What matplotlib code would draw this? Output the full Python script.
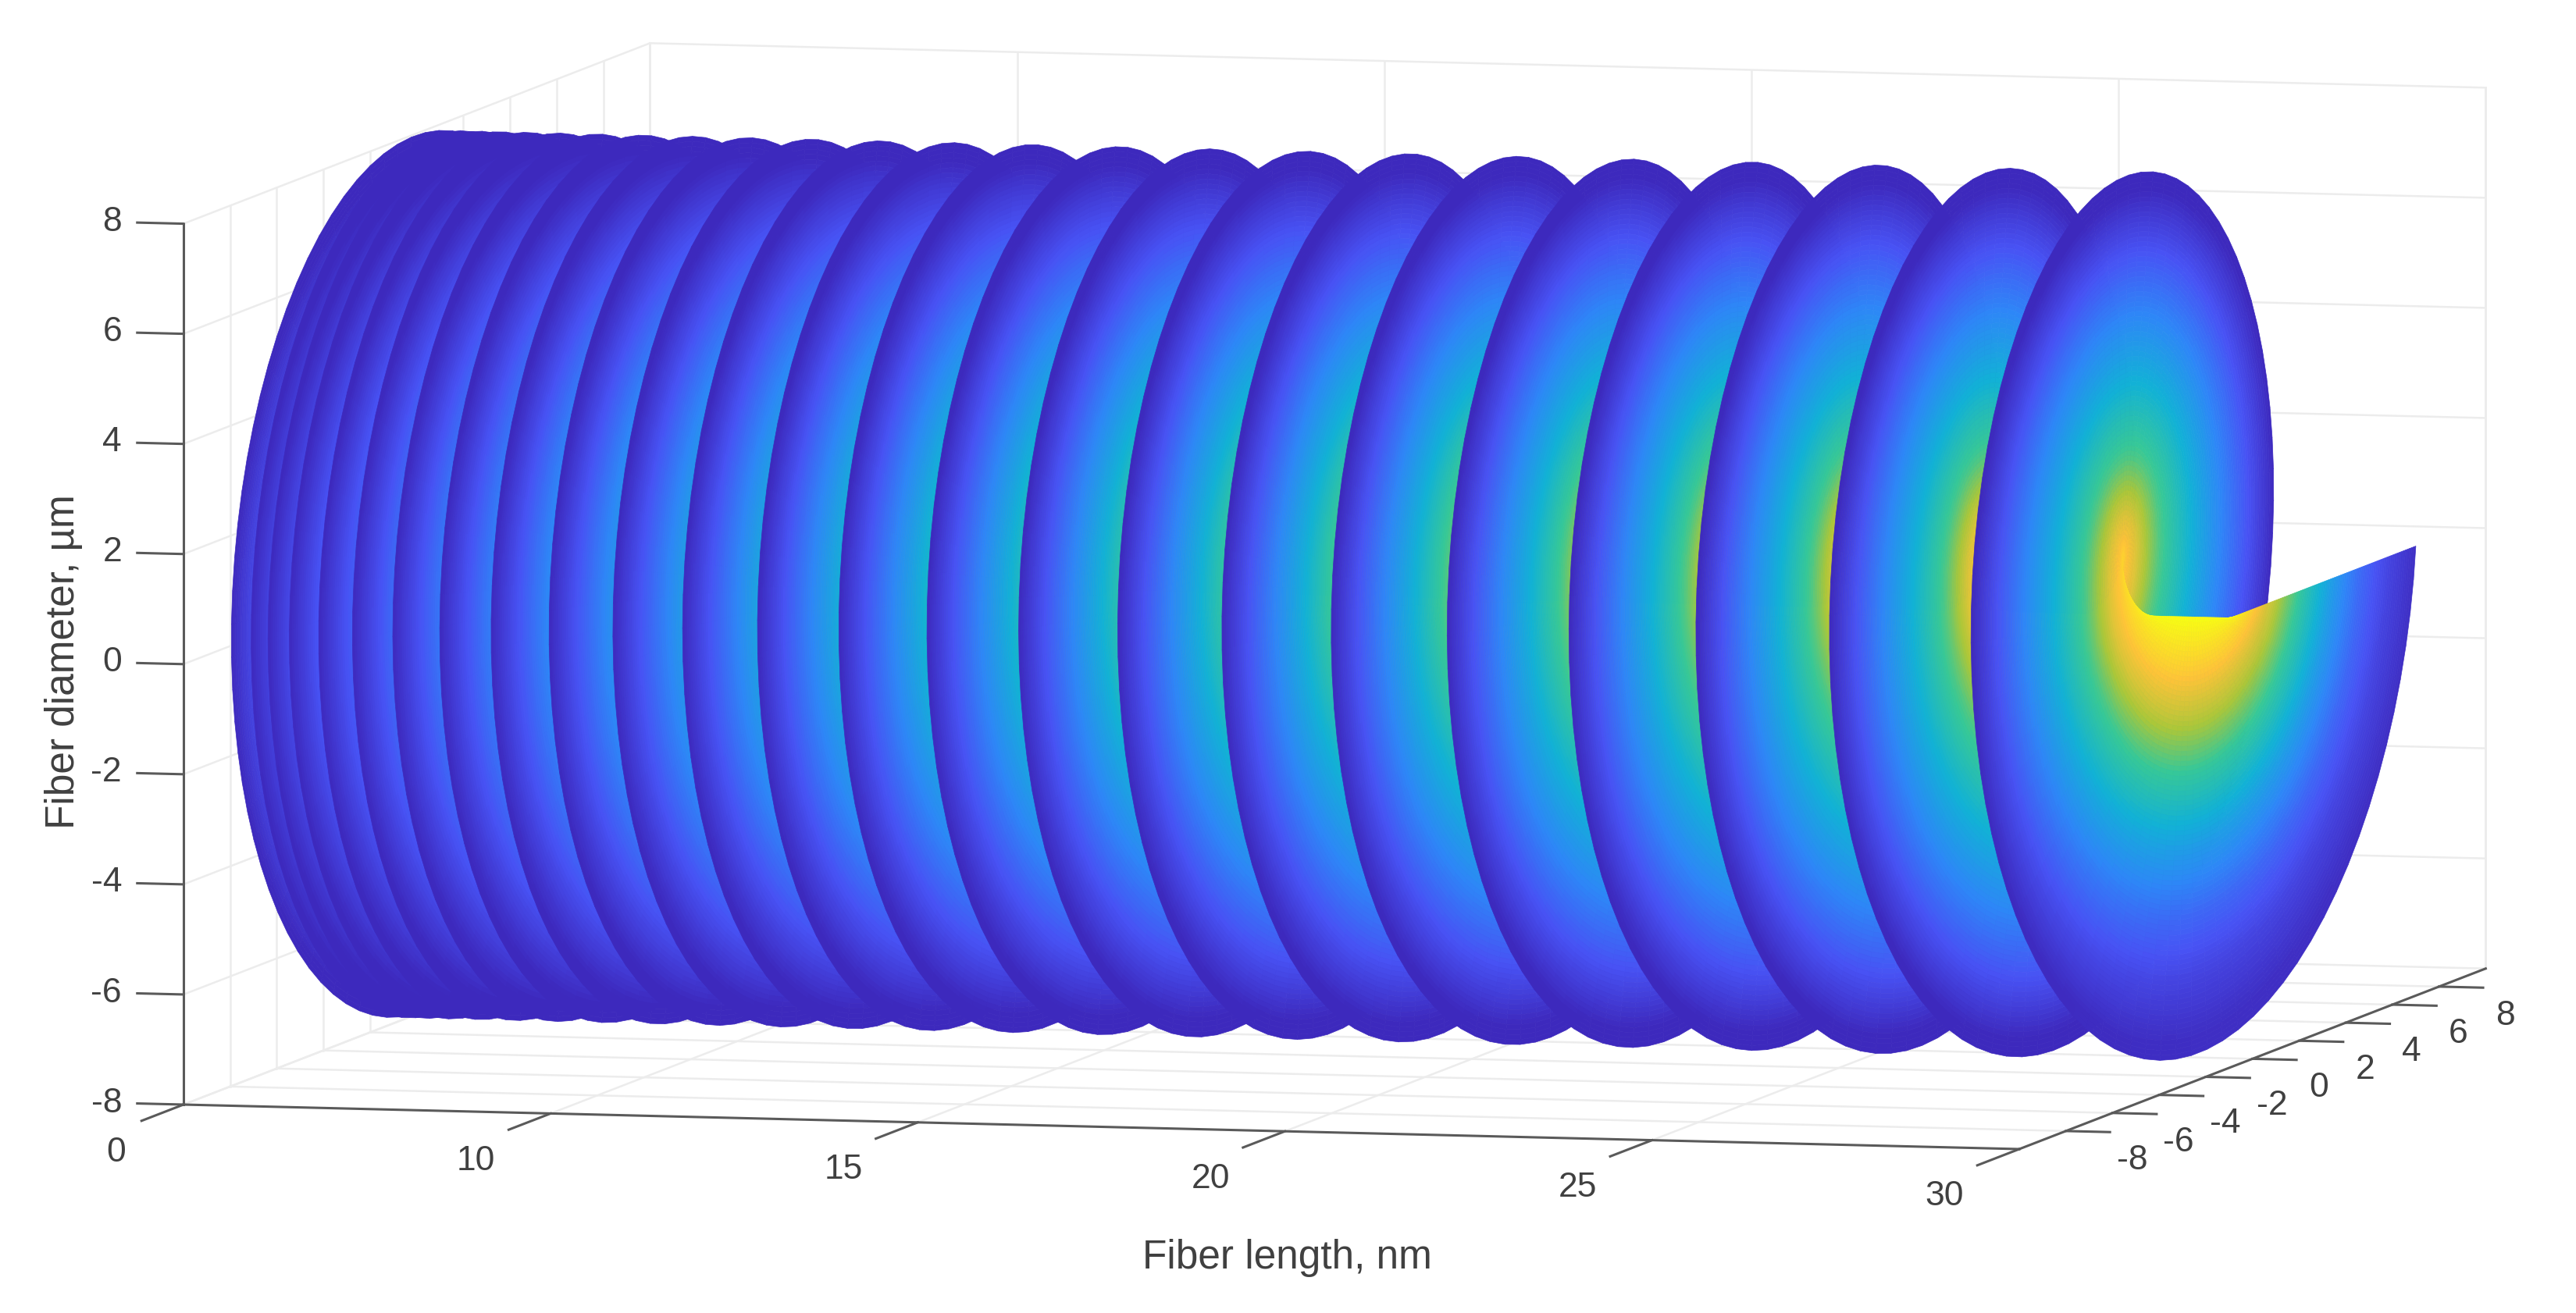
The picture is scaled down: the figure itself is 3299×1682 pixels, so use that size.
import numpy as np
import matplotlib
matplotlib.use("Agg")
import matplotlib.pyplot as plt
from matplotlib.colors import LinearSegmentedColormap
from mpl_toolkits.mplot3d import proj3d

# axis ticks (the first length tick sits at 5 but is labelled 0 in the original)
x_ticks = [5, 10, 15, 20, 25, 30]
x_tick_labels = ["0", "10", "15", "20", "25", "30"]
y_ticks = [-8, -6, -4, -2, 0, 2, 4, 6, 8]
z_ticks = [-8, -6, -4, -2, 0, 2, 4, 6, 8]

# x position of each turn of the spiral where it passes y = -radius, read left to right
rib_x = [5.00, 5.27, 5.50, 5.79, 6.19, 6.65, 7.20, 7.84, 8.54, 9.33, 10.20, 11.15,
         12.17, 13.28, 14.48, 15.73, 17.08, 18.50, 19.99, 21.57, 23.23, 24.96, 26.78, 28.71]
x_start = 4.92
x_end = 29.7
radius = 7.95

# colour level against distance from the axis
radial_pos = [0, 1.0, 1.8, 2.9, 4.3, 5.6, 6.8, 7.95]
radial_val = [1.0, 0.9, 0.8, 0.6, 0.43, 0.286, 0.143, 0.0]  # along the ribs
front_val = [1.0, 0.87, 0.75, 0.56, 0.36, 0.2, 0.09, 0.02]  # lower half of the last turn
# how much of front_val applies against the angle of the spiral
front_theta = [-3.14, -1.57, 0.0]
front_weight = [0.0, 1.0, 1.0]
z_squash = 1.05
# brightness falloff along the fibre
length_pos = [5, 15, 30]
length_gain = [0.95, 1.0, 1.0]

parula = LinearSegmentedColormap.from_list("parula", [
    (0.2400, 0.1600, 0.7400), (0.2810, 0.3228, 0.9579), (0.1786, 0.5289, 0.9682),
    (0.0689, 0.6948, 0.8394), (0.2161, 0.7843, 0.5923), (0.6720, 0.7793, 0.2227),
    (0.9970, 0.7659, 0.2199), (0.9769, 0.9839, 0.0805)])

grid_col = "#ececec"
axis_col = "#5a5a5a"
text_col = "#404040"
font = "Liberation Sans"
W, H = 3299, 1682

fig = plt.figure(figsize=(W / 100, H / 100), dpi=100)
ax = fig.add_axes([0, (H - W) / 2 / H, 1, W / H], projection="3d")
ax.set_proj_type("ortho")
ax.view_init(elev=5.56, azim=-75.95)
ax.set_xlim(5, 30, view_margin=0)
ax.set_ylim(-10, 10, view_margin=0)
ax.set_zlim(-8, 8, view_margin=0)
ax.set_axis_off()
ax.computed_zorder = False
box = (2424, 2461, 1134)
ax.set_box_aspect(box, zoom=1)


def to_px(x, y, z):
    xs, ys, _ = proj3d.proj_transform(x, y, z, ax.get_proj())
    return ax.transData.transform((xs, ys))


# fit the box onto the picture: x axis runs from (235,1415) to (2586,1472)
ax.apply_aspect()
p0, p1 = to_px(5, -10, -8), to_px(30, -10, -8)
scale = np.hypot(2351, 57) / np.hypot(*(p1 - p0))
ax.set_box_aspect(box, zoom=scale)
p0 = to_px(5, -10, -8)
pos = ax.get_position()
ax.set_position([pos.x0 + (235 - p0[0]) / W, pos.y0 + (H - 1415 - p0[1]) / H, pos.width, pos.height])
ax.apply_aspect()


def seg(a, b, col=grid_col, lw=1.8, z=1):
    ax.plot([a[0], b[0]], [a[1], b[1]], [a[2], b[2]], color=col, lw=lw, zorder=z)


def label(x, y, z, s, ha="center"):
    px = to_px(x, y, z)
    fig.text(px[0] / W, px[1] / H, s, ha=ha, va="center", fontsize=32, color=text_col, family=font)


# grid on the two back walls and the floor
for v in z_ticks:
    seg((5, -10, v), (5, 10, v))
    seg((5, 10, v), (30, 10, v))
for v in y_ticks:
    seg((5, v, -8), (5, v, 8))
    seg((5, v, -8), (30, v, -8))
for v in x_ticks:
    seg((v, 10, -8), (v, 10, 8))
    seg((v, -10, -8), (v, 10, -8))
seg((5, 10, -8), (5, 10, 8))
seg((30, 10, -8), (30, 10, 8))

# spiral surface
turn_theta = -np.pi - 2 * np.pi * np.arange(len(rib_x) - 1, -1, -1)
theta_pts = np.r_[turn_theta[0] - np.pi, turn_theta, 0.0]
x_pts = np.r_[x_start, rib_x, x_end]
theta = np.linspace(theta_pts[0], 0, 2000)
rad = np.linspace(0, radius, 90)
T, R = np.meshgrid(theta, rad)
X = np.interp(T, theta_pts, x_pts)
Y = R * np.cos(T)
Z = R * np.sin(T)
r_eff = np.sqrt(Y ** 2 + (z_squash * Z) ** 2)
w = np.interp(T, front_theta, front_weight)
level = (1 - w) * np.interp(r_eff, radial_pos, radial_val) + w * np.interp(r_eff, radial_pos, front_val)
level = level * np.interp(X, length_pos, length_gain)
ax.plot_surface(X, Y, Z, facecolors=parula(level), rstride=1, cstride=1,
                shade=False, linewidth=0.5, antialiased=True, zorder=2)

# axes and tick marks
seg((5, -10, -8), (5, -10, 8), axis_col, 2.2, 3)
seg((5, -10, -8), (30, -10, -8), axis_col, 2.2, 3)
seg((30, -10, -8), (30, 10, -8), axis_col, 2.2, 3)
for v in z_ticks:
    seg((5, -10, v), (4.37, -10, v), axis_col, 2.2, 3)
    label(4.16, -10, v, str(v), ha="right")
for v, lab in zip(x_ticks, x_tick_labels):
    seg((v, -10, -8), (v, -11.8, -8), axis_col, 2.2, 3)
    if v == 5:
        label(v + 0.1, -13.2, -8.34, lab)
    else:
        label(v, -13.2, -8.34, lab)
for v in y_ticks:
    seg((30, v, -8), (30.6, v, -8), axis_col, 2.2, 3)
    label(30.9, v, -8.5, str(v))

fig.text(1648 / W, 1 - 1612 / H, "Fiber length, nm", ha="center", va="center",
         fontsize=37, color=text_col, family=font)
fig.text(82 / W, 1 - 848 / H, "Fiber diameter, µm", ha="center", va="center", rotation=90,
         fontsize=37, color=text_col, family=font)

fig.savefig("out.png", dpi=100, facecolor="white")
